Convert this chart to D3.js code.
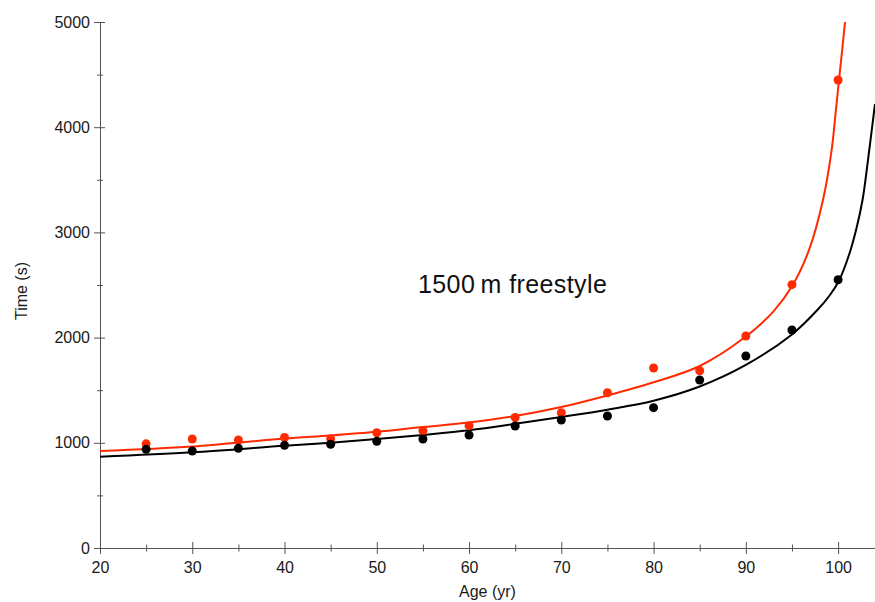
<!DOCTYPE html>
<html>
<head>
<meta charset="utf-8">
<script src="https://cdn.jsdelivr.net/npm/d3@7"></script>
<style>
  body { margin: 0; background: #fff; }
  svg { display: block; font-family: "Liberation Sans", Arial, Helvetica, sans-serif; }
  .axis path, .axis line { stroke: #555; }
  .axis text { fill: #1a1a1a; font-size: 16px; }
</style>
</head>
<body>
<div id="chart"></div>
<script>
// 1500 m freestyle — age records, two series with fitted curves

// measured points (age, seconds)
const ages = [25, 30, 35, 40, 45, 50, 55, 60, 65, 70, 75, 80, 85, 90, 95, 100];
const redTimes   = [990, 1036, 1027, 1050, 1036, 1096, 1115, 1163, 1240, 1286, 1476, 1711, 1685, 2015, 2503, 4449];
const blackTimes = [938, 922, 948, 976, 986, 1014, 1036, 1074, 1160, 1217, 1255, 1334, 1597, 1825, 2072, 2550];

// fitted curves
const redCurveAges  = [20, 30, 40, 45, 50, 55, 60, 65, 70, 75, 80, 85, 90, 93, 95.08, 96.85, 98.36, 99.3, 99.75, 100.1, 100.45, 100.75];
const redCurveTimes = [922, 965, 1040, 1070, 1105, 1150, 1192, 1255, 1340, 1450, 1575, 1730, 2010, 2250, 2500, 2833, 3308, 3783, 4150, 4449, 4740, 5000];
const blackCurveAges  = [20, 30, 40, 45, 50, 55, 60, 65, 70, 75, 80, 85, 90, 95, 97.75, 99.12, 100.13, 101.18, 102.0, 102.65, 103.24, 103.65, 104];
const blackCurveTimes = [868, 910, 972, 1000, 1035, 1075, 1120, 1180, 1245, 1315, 1400, 1535, 1740, 2030, 2262, 2405, 2548, 2785, 3042, 3308, 3688, 3973, 4221];

const xMajor = [20, 30, 40, 50, 60, 70, 80, 90, 100];
const xMinor = [25, 35, 45, 55, 65, 75, 85, 95];
const yMajor = [0, 1000, 2000, 3000, 4000, 5000];
const yMinor = [500, 1500, 2500, 3500, 4500];

const W = 875, H = 602;
const margin = { top: 22, right: 0, bottom: 54, left: 100 };
const RED = "#ff2a00";

const svg = d3.select("#chart").append("svg")
  .attr("width", W)
  .attr("height", H);

const x = d3.scaleLinear().domain([20, 104]).range([margin.left, W - margin.right]);
const y = d3.scaleLinear().domain([0, 5000]).range([H - margin.bottom, margin.top]);

svg.append("defs").append("clipPath").attr("id", "plot")
  .append("rect")
  .attr("x", margin.left).attr("y", margin.top)
  .attr("width", W - margin.left).attr("height", H - margin.bottom - margin.top);

// axes — ticks cross the axis line
const xAxisG = svg.append("g").attr("class", "axis x")
  .attr("transform", `translate(0,${y(0)})`)
  .call(d3.axisBottom(x).tickValues(xMajor).tickSizeOuter(0).tickFormat(d3.format("d")));
xAxisG.selectAll(".tick line").attr("y1", -6).attr("y2", 6);
xAxisG.selectAll(".tick text").attr("y", 14);

const xMinorG = svg.append("g").attr("class", "axis x-minor")
  .attr("transform", `translate(0,${y(0)})`)
  .call(d3.axisBottom(x).tickValues(xMinor).tickSizeOuter(0).tickFormat(""));
xMinorG.select(".domain").remove();
xMinorG.selectAll(".tick line").attr("y1", -3.5).attr("y2", 3.5);

const yAxisG = svg.append("g").attr("class", "axis y")
  .attr("transform", `translate(${x(20)},0)`)
  .call(d3.axisLeft(y).tickValues(yMajor).tickSizeOuter(0).tickFormat(d3.format("d")));
yAxisG.selectAll(".tick line").attr("x1", -6).attr("x2", 5);
yAxisG.selectAll(".tick text").attr("x", -10);

const yMinorG = svg.append("g").attr("class", "axis y-minor")
  .attr("transform", `translate(${x(20)},0)`)
  .call(d3.axisLeft(y).tickValues(yMinor).tickSizeOuter(0).tickFormat(""));
yMinorG.select(".domain").remove();
yMinorG.selectAll(".tick line").attr("x1", -3).attr("x2", 3);

// axis titles
svg.append("text")
  .attr("x", (x(20) + W) / 2)
  .attr("y", 597)
  .attr("text-anchor", "middle")
  .style("font-size", "16px")
  .style("fill", "#1a1a1a")
  .text("Age (yr)");

svg.append("text")
  .attr("transform", `translate(27,291) rotate(-90)`)
  .attr("text-anchor", "middle")
  .style("font-size", "16px")
  .style("fill", "#1a1a1a")
  .text("Time (s)");

// annotation
svg.append("text")
  .attr("x", 418)
  .attr("y", 293)
  .style("font-size", "25px")
  .style("letter-spacing", "0.4px")
  .style("fill", "#111")
  .text("1500\u2009m freestyle");

// curves
const line = d3.line()
  .x(d => x(d[0]))
  .y(d => y(d[1]))
  .curve(d3.curveCatmullRom.alpha(0.5));

const plot = svg.append("g").attr("clip-path", "url(#plot)");

const series = [
  { color: RED, curve: d3.zip(redCurveAges, redCurveTimes), pts: d3.zip(ages, redTimes) },
  { color: "#000", curve: d3.zip(blackCurveAges, blackCurveTimes), pts: d3.zip(ages, blackTimes) }
];

series.forEach(s => {
  plot.append("path")
    .datum(s.curve)
    .attr("fill", "none")
    .attr("stroke", s.color)
    .attr("stroke-width", 2)
    .attr("d", line);
});

series.forEach(s => {
  svg.append("g").selectAll("circle")
    .data(s.pts)
    .join("circle")
    .attr("cx", d => x(d[0]))
    .attr("cy", d => y(d[1]))
    .attr("r", 4.5)
    .attr("fill", s.color);
});
</script>
</body>
</html>
